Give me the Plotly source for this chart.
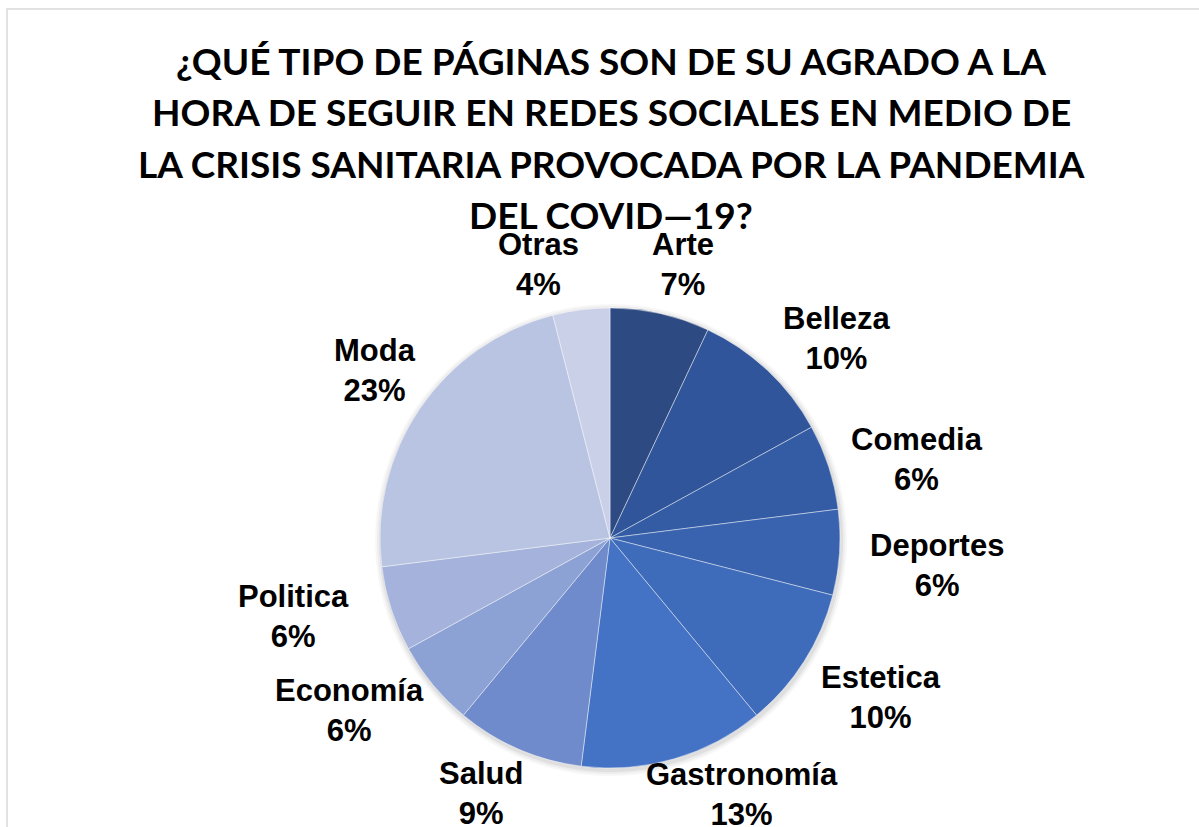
import math
import plotly.graph_objects as go

# Survey answers: share of respondents (%) per page category
categories = ["Arte", "Belleza", "Comedia", "Deportes", "Estetica", "Gastronomía",
              "Salud", "Economía", "Politica", "Moda", "Otras"]
shares = [7, 10, 6, 6, 10, 13, 9, 6, 6, 23, 4]
slice_colors = ["#2D4B82", "#30559A", "#345CA4", "#3963AE", "#3E6BBA", "#4472C4",
                "#6F8BCB", "#8CA1D4", "#A5B3DC", "#B9C4E2", "#C9D0E8"]

title_lines = [
    "¿QUÉ TIPO DE PÁGINAS SON DE SU AGRADO A LA",
    "HORA DE SEGUIR EN REDES SOCIALES EN MEDIO DE",
    "LA CRISIS SANITARIA PROVOCADA POR LA PANDEMIA",
    "DEL COVID—19?",
]

W, H = 1199, 827
CX, CY, R = 610, 538, 230          # pie centre and radius in pixels
LABEL_FONT = 31
CHAR_W = 19                        # rough width of one label character
LABEL_H = 60                       # rough height of a two-line label
GAP = 23
ANGLE_BIAS = 2                     # labels sit slightly clockwise of the slice middle
Y_MIN, Y_MAX = 264, 794            # vertical room available for labels


def px(x):
    return x / W


def py(y):
    return 1 - y / H


fig = go.Figure()

# soft shadow behind the pie
for grow, alpha in [(6, 0.03), (4, 0.04), (2, 0.06)]:
    fig.add_shape(type="circle", xref="paper", yref="paper", layer="below",
                  x0=px(CX - R - grow + 1), x1=px(CX + R + grow + 1),
                  y0=py(CY + R + grow + 2), y1=py(CY - R - grow + 2),
                  line=dict(width=0), fillcolor=f"rgba(0,0,0,{alpha})")

fig.add_trace(go.Pie(
    labels=categories,
    values=shares,
    sort=False,
    direction="clockwise",
    rotation=0,
    marker=dict(colors=slice_colors, line=dict(color="rgba(255,255,255,0.55)", width=0.8)),
    textinfo="none",
    hoverinfo="label+percent",
    showlegend=False,
    domain=dict(x=[px(CX - R), px(CX + R)], y=[py(CY + R), py(CY - R)]),
))

# data labels placed just outside each slice's mid-angle
total = sum(shares)
cum = 0
for name, v in zip(categories, shares):
    theta = math.radians((cum + v / 2) / total * 360 + ANGLE_BIAS)
    cum += v
    dx, dy = math.sin(theta), -math.cos(theta)
    pct = f"{round(v / total * 100)}%"
    w = max(len(name), len(pct)) * CHAR_W
    lx = CX + (R + GAP) * dx + dx * w / 2
    ly = CY + (R + GAP) * dy + dy * LABEL_H / 2
    if ly > Y_MAX or ly < Y_MIN:
        rl = math.hypot(lx - CX, ly - CY)
        ly = min(max(ly, Y_MIN), Y_MAX)
        span = math.sqrt(max(rl ** 2 - (ly - CY) ** 2, 0))
        lx = CX + math.copysign(span, dx)
    fig.add_annotation(
        x=px(lx), y=py(ly), xref="paper", yref="paper",
        xanchor="center", yanchor="middle", align="center", showarrow=False,
        text=f"{name}<br>{pct}",
        font=dict(family="Liberation Sans, Arial, sans-serif", size=LABEL_FONT,
                  color="#000000", weight="bold"),
    )

# chart title, one line per annotation for wider leading
for i, line in enumerate(title_lines):
    fig.add_annotation(
        x=px(611), y=py(60 + i * 51.5), xref="paper", yref="paper",
        xanchor="center", yanchor="middle", showarrow=False, text=line,
        font=dict(family="Lato, sans-serif", size=37, color="#000000", weight="bold"),
    )

# chart-area frame
fig.add_shape(type="rect", xref="paper", yref="paper", layer="below",
              x0=px(7), x1=px(W + 20), y0=py(H + 20), y1=py(9),
              line=dict(color="#D9D9D9", width=1.5), fillcolor="rgba(0,0,0,0)")

fig.update_layout(
    width=W, height=H,
    margin=dict(l=0, r=0, t=0, b=0),
    paper_bgcolor="white",
    plot_bgcolor="white",
)

fig.write_html("out.html")
